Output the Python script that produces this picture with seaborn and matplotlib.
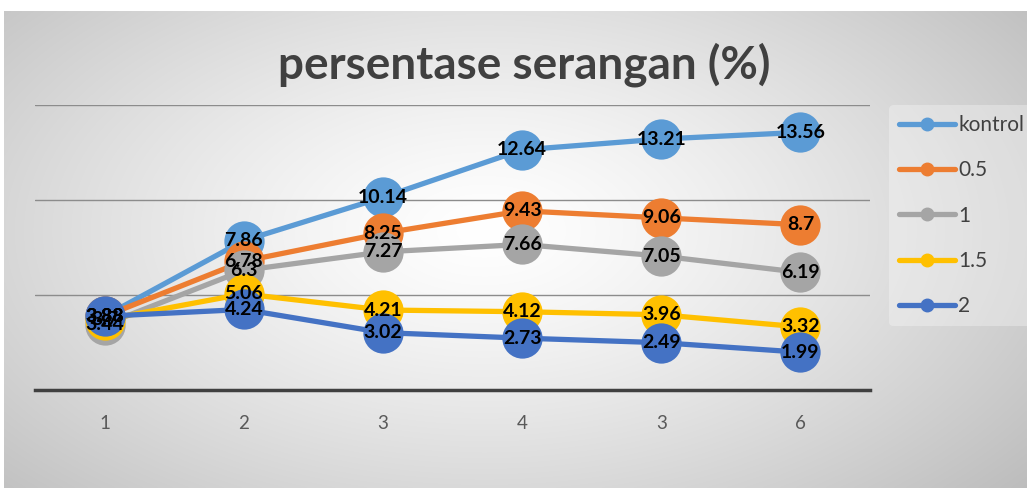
import numpy as np
import pandas as pd
import matplotlib
matplotlib.use("Agg")
import matplotlib.pyplot as plt
import seaborn as sns
from matplotlib.lines import Line2D

# data
categories = ["1", "2", "3", "4", "3", "6"]
series_names = ["kontrol", "0.5", "1", "1.5", "2"]
kontrol = [3.88, 7.86, 10.14, 12.64, 13.21, 13.56]
dose_05 = [3.88, 6.78, 8.25, 9.43, 9.06, 8.7]
dose_1 = [3.44, 6.3, 7.27, 7.66, 7.05, 6.19]
dose_15 = [3.7, 5.06, 4.21, 4.12, 3.96, 3.32]
dose_2 = [3.88, 4.24, 3.02, 2.73, 2.49, 1.99]
colors = ["#5B9BD5", "#ED7D31", "#A5A5A5", "#FFC000", "#4472C4"]

all_vals = [kontrol, dose_05, dose_1, dose_15, dose_2]
rows = []
for name, vals in zip(series_names, all_vals):
    for i, v in enumerate(vals):
        rows.append({"pos": i, "series": name, "value": v})
df = pd.DataFrame(rows)

sns.set_theme(style="white")
plt.rcParams["font.family"] = ["Lato", "DejaVu Sans"]

fig = plt.figure(figsize=(10.27, 4.88), dpi=100)
fig.patch.set_facecolor("white")

# radial grey gradient background like the Excel chart area
bg = fig.add_axes([4 / 1027, 0, 1 - 4 / 1027, (488 - 11) / 488])
yy, xx = np.mgrid[0:240, 0:512]
cx, cy = 240, 110
r = np.sqrt(((xx - cx) / 300.0) ** 2 + ((yy - cy) / 170.0) ** 2)
shade = 1.0 - 0.21 * np.clip(r, 0, 1.4) ** 1.3
bg.imshow(np.dstack([shade] * 3), aspect="auto", interpolation="bilinear")
bg.axis("off")

ax = fig.add_axes([35 / 1027, 1 - 390 / 488, (870 - 35) / 1027, (390 - 105) / 488])
ax.patch.set_alpha(0)

sns.lineplot(
    data=df, x="pos", y="value", hue="series", hue_order=series_names,
    palette=colors, marker="o", markersize=29, markeredgewidth=0,
    linewidth=3.8, legend=False, ax=ax, zorder=3,
)

# data labels centred on each marker
for vals in all_vals:
    for i, v in enumerate(vals):
        ax.text(i, v, f"{v:g}", ha="center", va="center", fontsize=14,
                fontweight="bold", color="black", zorder=10)

ax.set_xlim(-0.5, 5.5)
ax.set_ylim(0, 15)
ax.set_yticks([5, 10, 15])
ax.set_yticklabels([])
ax.tick_params(axis="y", length=0)
ax.yaxis.grid(True, color="#8c8c8c", linewidth=1.0)
ax.set_axisbelow(True)
ax.set_xticks(range(len(categories)))
ax.set_xticklabels(categories, fontsize=13.5, color="#595959")
ax.tick_params(axis="x", length=0, pad=18)
ax.set_xlabel("")
ax.set_ylabel("")
for side in ["top", "right", "left"]:
    ax.spines[side].set_visible(False)
ax.spines["bottom"].set_color("#404040")
ax.spines["bottom"].set_linewidth(2.5)

fig.text(0.51, 1 - 65 / 488, "persentase serangan (%)", ha="center", va="center",
         fontsize=33, fontweight="bold", color="#404040")

handles = [Line2D([0], [0], color=c, lw=3.8, marker="o", markersize=9) for c in colors]
leg = fig.legend(handles, series_names, loc="upper left",
                 bbox_to_anchor=(879 / 1027, 1 - 95 / 488), frameon=True,
                 fontsize=15, labelspacing=1.22, handlelength=2.7, handletextpad=0.15,
                 borderpad=0.45, labelcolor="#404040")
leg.get_frame().set_facecolor("white")
leg.get_frame().set_alpha(0.3)
leg.get_frame().set_edgecolor("none")

fig.savefig("out.png", dpi=100)
